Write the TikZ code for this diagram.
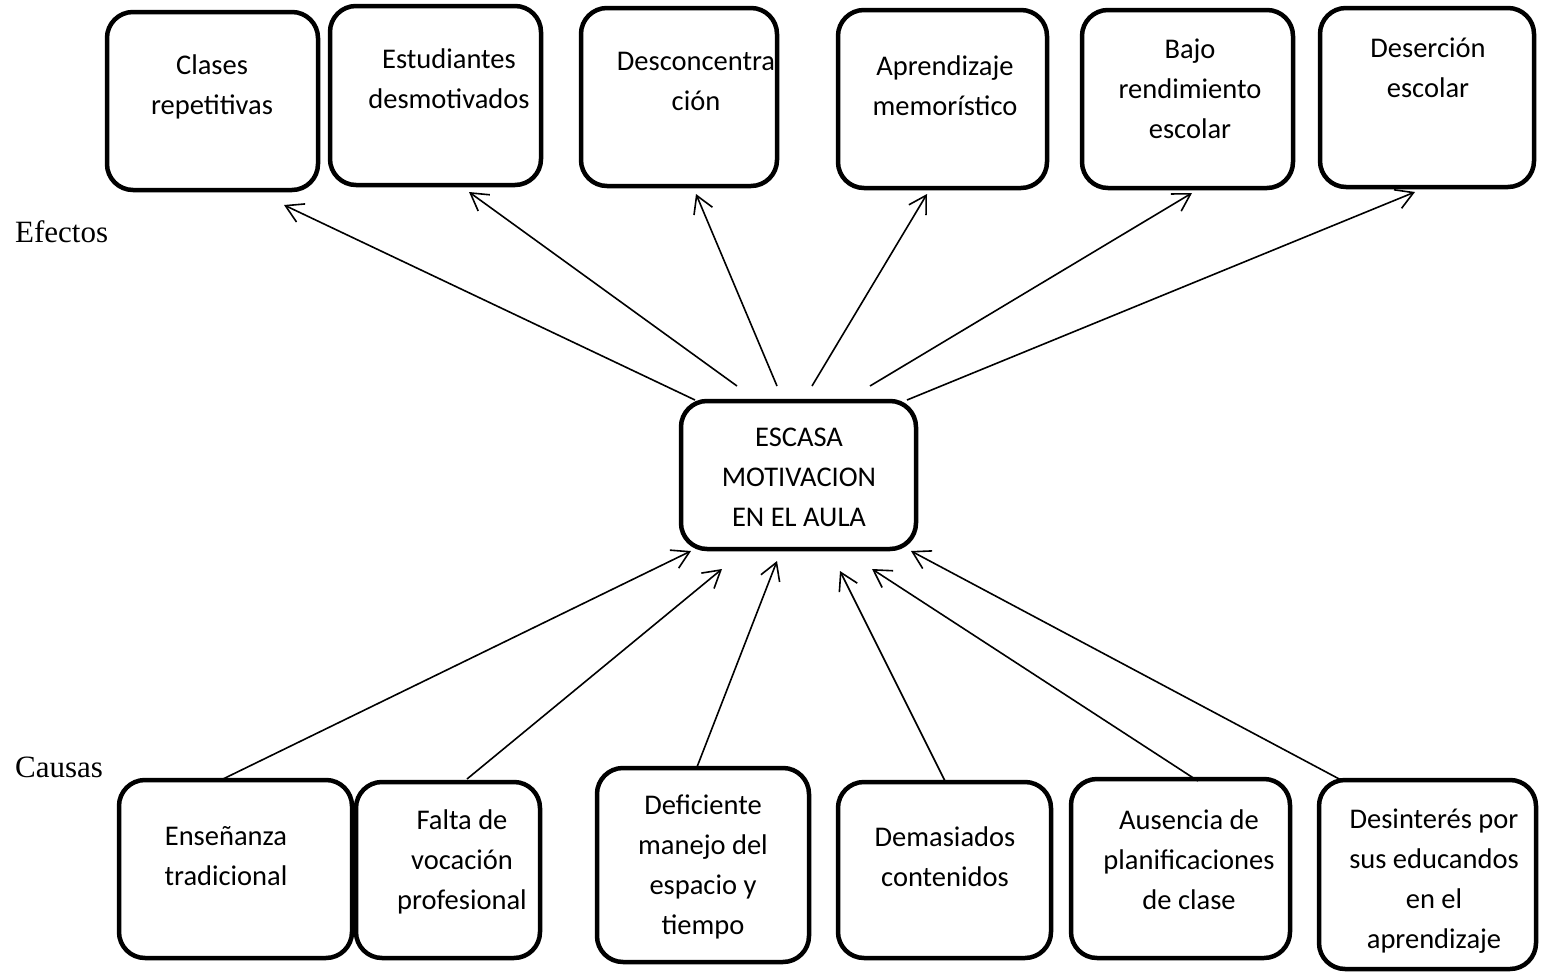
\documentclass[tikz,border=0pt]{standalone}
\usepackage{fontspec}
\setmainfont{Liberation Serif}
\newfontfamily\boxfont{Carlito}
\usetikzlibrary{arrows.meta}

\tikzset{
  box/.style={draw, line width=4.5pt, rounded corners=26pt, inner sep=0pt},
  boxtext/.style={anchor=north, align=center, inner sep=0pt,
    font=\boxfont\fontsize{28.5}{40}\selectfont},
  arr/.style={line width=1.6pt, -{Straight Barb[length=17pt,width=20pt,line width=1.6pt]}},
  side/.style={anchor=base west, inner sep=0pt, font=\fontsize{31}{36}\selectfont}
}

\begin{document}
\begin{tikzpicture}[x=1pt,y=-1pt]
  \useasboundingbox (0,0) rectangle (1543,972);

  % side labels
  \node[side] (efectos) at (15,242) {Efectos};
  \node[side] (causas) at (15,777) {Causas};

  % effect boxes
  \foreach[count=\i] \cx/\cy/\w/\h/\tx/\ty/\lbl in {
      212.5/101/211/178/212/55/{Clases\\repetitivas},
      435.5/95.5/211/179/449/49/{Estudiantes\\desmotivados},
      679/97/196/178/696/52/{Desconcentra\\ción},
      942.5/99/209/178/945/56/{Aprendizaje\\memorístico},
      1187.5/99/211/178/1190/39/{Bajo\\rendimiento\\escolar},
      1427/97.5/214/179/1428/38/{Deserción\\escolar}} {
    \node[box, minimum width=\w, minimum height=\h] (e\i) at (\cx,\cy) {};
    \node[boxtext] (et\i) at (\tx,\ty) {\lbl};
  }

  % problem
  \node[box, minimum width=235, minimum height=148] (prob) at (798.5,475) {};
  \node[boxtext] (probt) at (799,428) {ESCASA\\MOTIVACION\\EN EL AULA};

  % cause boxes
  \foreach[count=\i] \cx/\cy/\w/\h/\tx/\ty/\lbl in {
      235.5/869/233/178/226/826/{Enseñanza\\tradicional},
      448/870/184/176/462/810/{Falta de\\vocación\\profesional},
      703/865/212/194/703/795/{Deficiente\\manejo del\\espacio y\\tiempo},
      944.5/870/213/176/945/827/{Demasiados\\contenidos},
      1180.5/868.5/219/179/1189/810/{Ausencia de\\planificaciones\\de clase},
      1427.5/874.5/217/189/1434/809/{Desinterés por\\sus educandos\\en el\\aprendizaje}} {
    \node[box, minimum width=\w, minimum height=\h] (c\i) at (\cx,\cy) {};
    \node[boxtext] (ct\i) at (\tx,\ty) {\lbl};
  }

  % arrows up to the effects
  \foreach[count=\i] \ax/\ay/\bx/\by in {
      695/400/284/205, 737/386/469/192, 777/386/696/194,
      812/386/927/194, 870/386/1192/193, 907/400/1415/192} {
    \coordinate (ef\i) at (\ax,\ay);
    \coordinate (eh\i) at (\bx,\by);
    \draw[arr] (ef\i) -- (eh\i);
  }

  % arrows up from the causes
  \foreach[count=\i] \ax/\ay/\bx/\by in {
      223/779/691/551, 467/779/722/569, 697/767/777/561,
      945/781/840/571, 1198/781/872/569, 1343/781/911/551} {
    \coordinate (cf\i) at (\ax,\ay);
    \coordinate (ch\i) at (\bx,\by);
    \draw[arr] (cf\i) -- (ch\i);
  }
\end{tikzpicture}
\end{document}
